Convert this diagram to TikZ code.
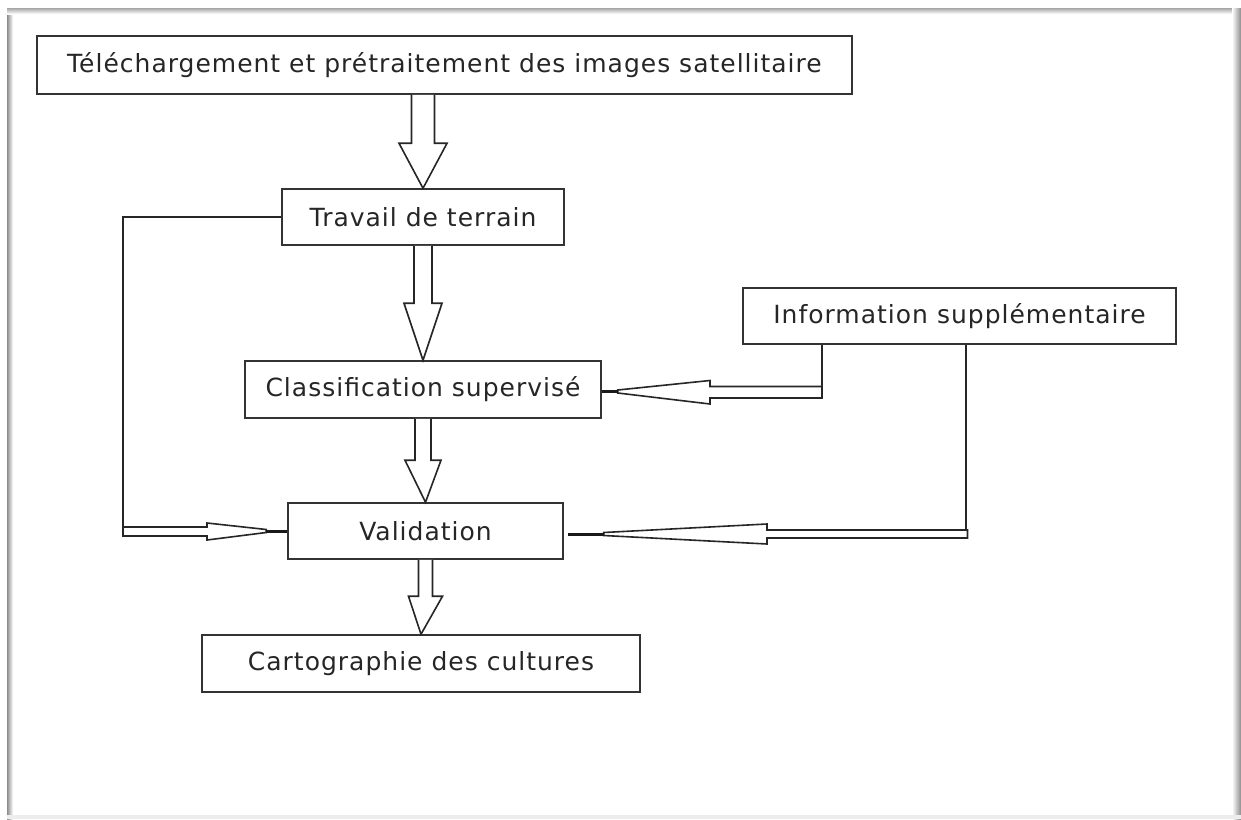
\documentclass[tikz,border=0pt]{standalone}
\usepackage{fontspec}
\setmainfont{DejaVu Sans}[LetterSpace=4]
\usetikzlibrary{calc}
\begin{document}
\begin{tikzpicture}[x=1pt,y=-1pt,
  box/.style={draw=black!80, line width=1.5pt, fill=white, inner sep=0pt,
    font=\fontsize{25}{30}\selectfont, text=black!85},
  blk/.style={draw=black!85, line width=1.6pt, fill=white, line join=miter},
  conn/.style={draw=black!85, line width=1.6pt},
  tipline/.style={draw=black!90, line width=3pt}]
\useasboundingbox (0,0) rectangle (1241,819);
\fill[white] (0,0) rectangle (1241,819);
% frame shadow
\shade[left color=black!45, right color=white] (7,8) rectangle (13,819);
\shade[top color=black!35, bottom color=white] (7,8) rectangle (1241,14);
\shade[left color=white, right color=black!45] (1232,8) rectangle (1241,819);
\fill[black!7] (7,815) rectangle (1241,819);

% boxes
\node[box, minimum width=815, minimum height=58] (b1) at (444.5,65) {Téléchargement et prétraitement des images satellitaire};
\node[box, minimum width=282, minimum height=56] (b2) at (423,217) {Travail de terrain};
\node[box, minimum width=356, minimum height=57] (b3) at (423,389.5) {Classification supervisé};
\node[box, minimum width=433, minimum height=56] (info) at (959.5,316) {Information supplémentaire};
\node[box, minimum width=275, minimum height=56] (val) at (425.5,531) {Validation};
\node[box, minimum width=438, minimum height=57] (carto) at (421,663.5) {Cartographie des cultures};

% block arrows down
\draw[blk] let \p1=(b1.south -| b2.north), \p2=(b2.north) in
  (\x1-11.5pt,\y1) -- (\x1-11.5pt,\y2+45pt) -- (\x1-24pt,\y2+45pt) -- (\x2,\y2)
  -- (\x1+24pt,\y2+45pt) -- (\x1+11.5pt,\y2+45pt) -- (\x1+11.5pt,\y1);
\draw[blk] let \p1=(b2.south), \p2=(b3.north) in
  (\x1-9pt,\y1) -- (\x1-9pt,\y2+57pt) -- (\x1-19pt,\y2+57pt) -- (\x2,\y2)
  -- (\x1+19pt,\y2+57pt) -- (\x1+9pt,\y2+57pt) -- (\x1+9pt,\y1);
\draw[blk] let \p1=(b3.south), \p2=(val.north) in
  (\x1-8pt,\y1) -- (\x1-8pt,\y2+42pt) -- (\x1-18pt,\y2+42pt) -- (\x2,\y2)
  -- (\x1+18pt,\y2+42pt) -- (\x1+8pt,\y2+42pt) -- (\x1+8pt,\y1);
\draw[blk] let \p1=(val.south), \p2=(carto.north) in
  (\x1-7pt,\y1) -- (\x1-7pt,\y2+38pt) -- (\x1-17pt,\y2+38pt) -- (\x2,\y2)
  -- (\x1+17pt,\y2+38pt) -- (\x1+7pt,\y2+38pt) -- (\x1+7pt,\y1);

% left feedback: Travail de terrain -> Validation
\coordinate (lc) at (123,217);
\draw[conn] (b2.west) -- (lc) -- ($(lc|-val.west)+(0,5)$);
\draw[blk] ($(lc|-val.west)+(0,-4)$) -- ++(84,0) -- ++(0,-4) -- ($(val.west)+(-21,-1.5)$)
  -- ($(val.west)+(-21,1.5)$) -- ($(lc|-val.west)+(84,9)$) -- ++(0,-4) -- ($(lc|-val.west)+(0,5)$) -- cycle;
\draw[tipline] ($(val.west)+(-21,0)$) -- (val.west);

% Information -> Classification
\coordinate (ic) at ($(info.south)+(-137.5,0)$);
\draw[conn] (ic) -- ($(ic|-b3.east)+(0,8.5)$);
\draw[blk] ($(ic|-b3.east)+(0,-3)$) -- ($(ic|-b3.east)+(-112,-3)$) -- ++(0,-6) -- ($(b3.east)+(16,0.5)$)
  -- ($(b3.east)+(16,3.5)$) -- ($(ic|-b3.east)+(-112,14.5)$) -- ++(0,-6) -- ($(ic|-b3.east)+(0,8.5)$) -- cycle;
\draw[tipline] ($(b3.east)+(16,2)$) -- ($(b3.east)+(0,2)$);

% Information -> Validation
\coordinate (jc) at ($(info.south)+(6.5,0)$);
\draw[conn] (jc) -- ($(jc|-val.east)+(0,7)$);
\draw[blk] ($(jc|-val.east)+(1.5,-1)$) -- ($(jc|-val.east)+(-199,-1)$) -- ++(0,-6) -- ($(val.east)+(40,1.5)$)
  -- ($(val.east)+(40,4.5)$) -- ($(jc|-val.east)+(-199,13)$) -- ++(0,-6) -- ($(jc|-val.east)+(1.5,7)$) -- cycle;
\draw[tipline] ($(val.east)+(40,3)$) -- ($(val.east)+(4,3)$);
\end{tikzpicture}
\end{document}
